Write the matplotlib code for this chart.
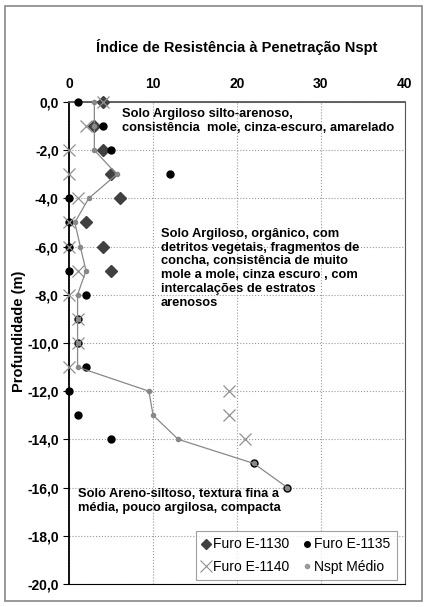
import numpy as np
import matplotlib
matplotlib.use("Agg")
import matplotlib.pyplot as plt
from matplotlib.patches import Rectangle
from matplotlib.lines import Line2D

plt.rcParams['font.family'] = ['Liberation Sans', 'DejaVu Sans']

# Profundidades (m) e valores Nspt por furo
prof_1130 = [0, -1, -2, -3, -4, -5, -6, -7]
n_1130 = [4, 3, 4, 5, 6, 2, 4, 5]

prof_1135 = [0, -1, -2, -3, -4, -5, -6, -7, -8, -9, -10, -11, -12, -13, -14, -15, -16]
n_1135 = [1, 4, 5, 12, 0, 0, 0, 0, 2, 1, 1, 2, 0, 1, 5, 22, 26]

prof_1140 = [0, -1, -2, -3, -4, -5, -6, -7, -8, -9, -10, -11, -12, -13, -14]
n_1140 = [4, 2, 0, 0, 1, 0, 0, 1, 0, 1, 1, 0, 19, 19, 21]

prof_med = [0, -1, -2, -3, -4, -5, -6, -7, -8, -9, -10, -11, -12, -13, -14, -15, -16]
n_med = [3, 3, 3, 5.67, 2.33, 0.67, 1.33, 2, 1, 1, 1, 1, 9.5, 10, 13, 22, 26]

x_ticks = [0, 10, 20, 30, 40]
y_ticks = np.arange(0, -21, -2)

fig = plt.figure(figsize=(4.27, 6.07), dpi=100)
ax = fig.add_axes([0.162, 0.038, 0.786, 0.794])

# moldura cinza em volta da figura
fig.patches.append(Rectangle((0.012, 0.01), 0.976, 0.98, transform=fig.transFigure,
                             fill=False, edgecolor='#888888', linewidth=1.2))

ax.plot(n_1130, prof_1130, linestyle='none', marker='D', markersize=6,
        color='#404040', clip_on=False, zorder=3)
ax.plot(n_1135, prof_1135, linestyle='none', marker='o', markersize=5,
        color='black', clip_on=False, zorder=3)
ax.plot(n_1140, prof_1140, linestyle='none', marker='x', markersize=9,
        markeredgewidth=0.9, color='#909090', clip_on=False, zorder=3)
ax.plot(n_med, prof_med, linestyle='-', linewidth=0.9, marker='o', markersize=3,
        color='#888888', clip_on=False, zorder=4)

ax.set_xlim(0, 40)
ax.set_ylim(-20, 0)
ax.xaxis.tick_top()
ax.set_xticks(x_ticks)
ax.set_yticks(y_ticks)
ax.set_yticklabels([f"{v:.1f}".replace('.', ',') for v in y_ticks])
ax.tick_params(axis='x', length=0, pad=8, labelsize=10)
ax.tick_params(axis='y', direction='out', length=4, labelsize=10)
for lbl in ax.get_xticklabels() + ax.get_yticklabels():
    lbl.set_fontweight('bold')

ax.grid(True, color='#999999', linestyle=':', linewidth=0.8)
ax.set_axisbelow(True)
for s in ['top', 'right']:
    ax.spines[s].set_color('#555555')
ax.spines['left'].set_linewidth(1.3)
ax.spines['top'].set_linewidth(1.3)

ax.set_ylabel('Profundidade (m)', fontsize=10.5, fontweight='bold')
ax.yaxis.set_label_coords(-0.128, 0.525)
fig.text(0.555, 0.922, 'Índice de Resistência à Penetração Nspt', ha='center', va='center',
         fontsize=10.5, fontweight='bold')

ax.text(6.3, -0.8, 'Solo Argiloso silto-arenoso,\nconsistência  mole, cinza-escuro, amarelado',
        fontsize=9.3, fontweight='bold', va='center', linespacing=1.2)
ax.text(10.9, -6.9, 'Solo Argiloso, orgânico, com\ndetritos vegetais, fragmentos de\n'
        'concha, consistência de muito\nmole a mole, cinza escuro , com\n'
        'intercalações de estratos\narenosos',
        fontsize=9.3, fontweight='bold', va='center', linespacing=1.2)
ax.text(1.0, -16.55, 'Solo Areno-siltoso, textura fina a\nmédia, pouco argilosa, compacta',
        fontsize=9.3, fontweight='bold', va='center', linespacing=1.2)

# legenda: linhas na ordem da referencia (preenchimento por coluna)
h_1130 = Line2D([], [], linestyle='none', marker='D', markersize=5, color='#404040')
h_1135 = Line2D([], [], linestyle='none', marker='o', markersize=4, color='black')
h_1140 = Line2D([], [], linestyle='none', marker='x', markersize=8, markeredgewidth=0.8,
                color='#909090')
h_med = Line2D([], [], linestyle='none', marker='o', markersize=3, color='#999999')
leg = ax.legend([h_1130, h_1140, h_1135, h_med],
                ['Furo E-1130', 'Furo E-1140', 'Furo E-1135', 'Nspt Médio'],
                loc='lower right', ncol=2, fontsize=10, frameon=True, fancybox=False,
                edgecolor='#888888', handlelength=0.6, handletextpad=0.2,
                columnspacing=1.0, borderpad=0.45, labelspacing=0.6,
                borderaxespad=0, bbox_to_anchor=(0.976, 0.008))
leg.get_frame().set_linewidth(0.8)

fig.savefig('out.png', dpi=100)
